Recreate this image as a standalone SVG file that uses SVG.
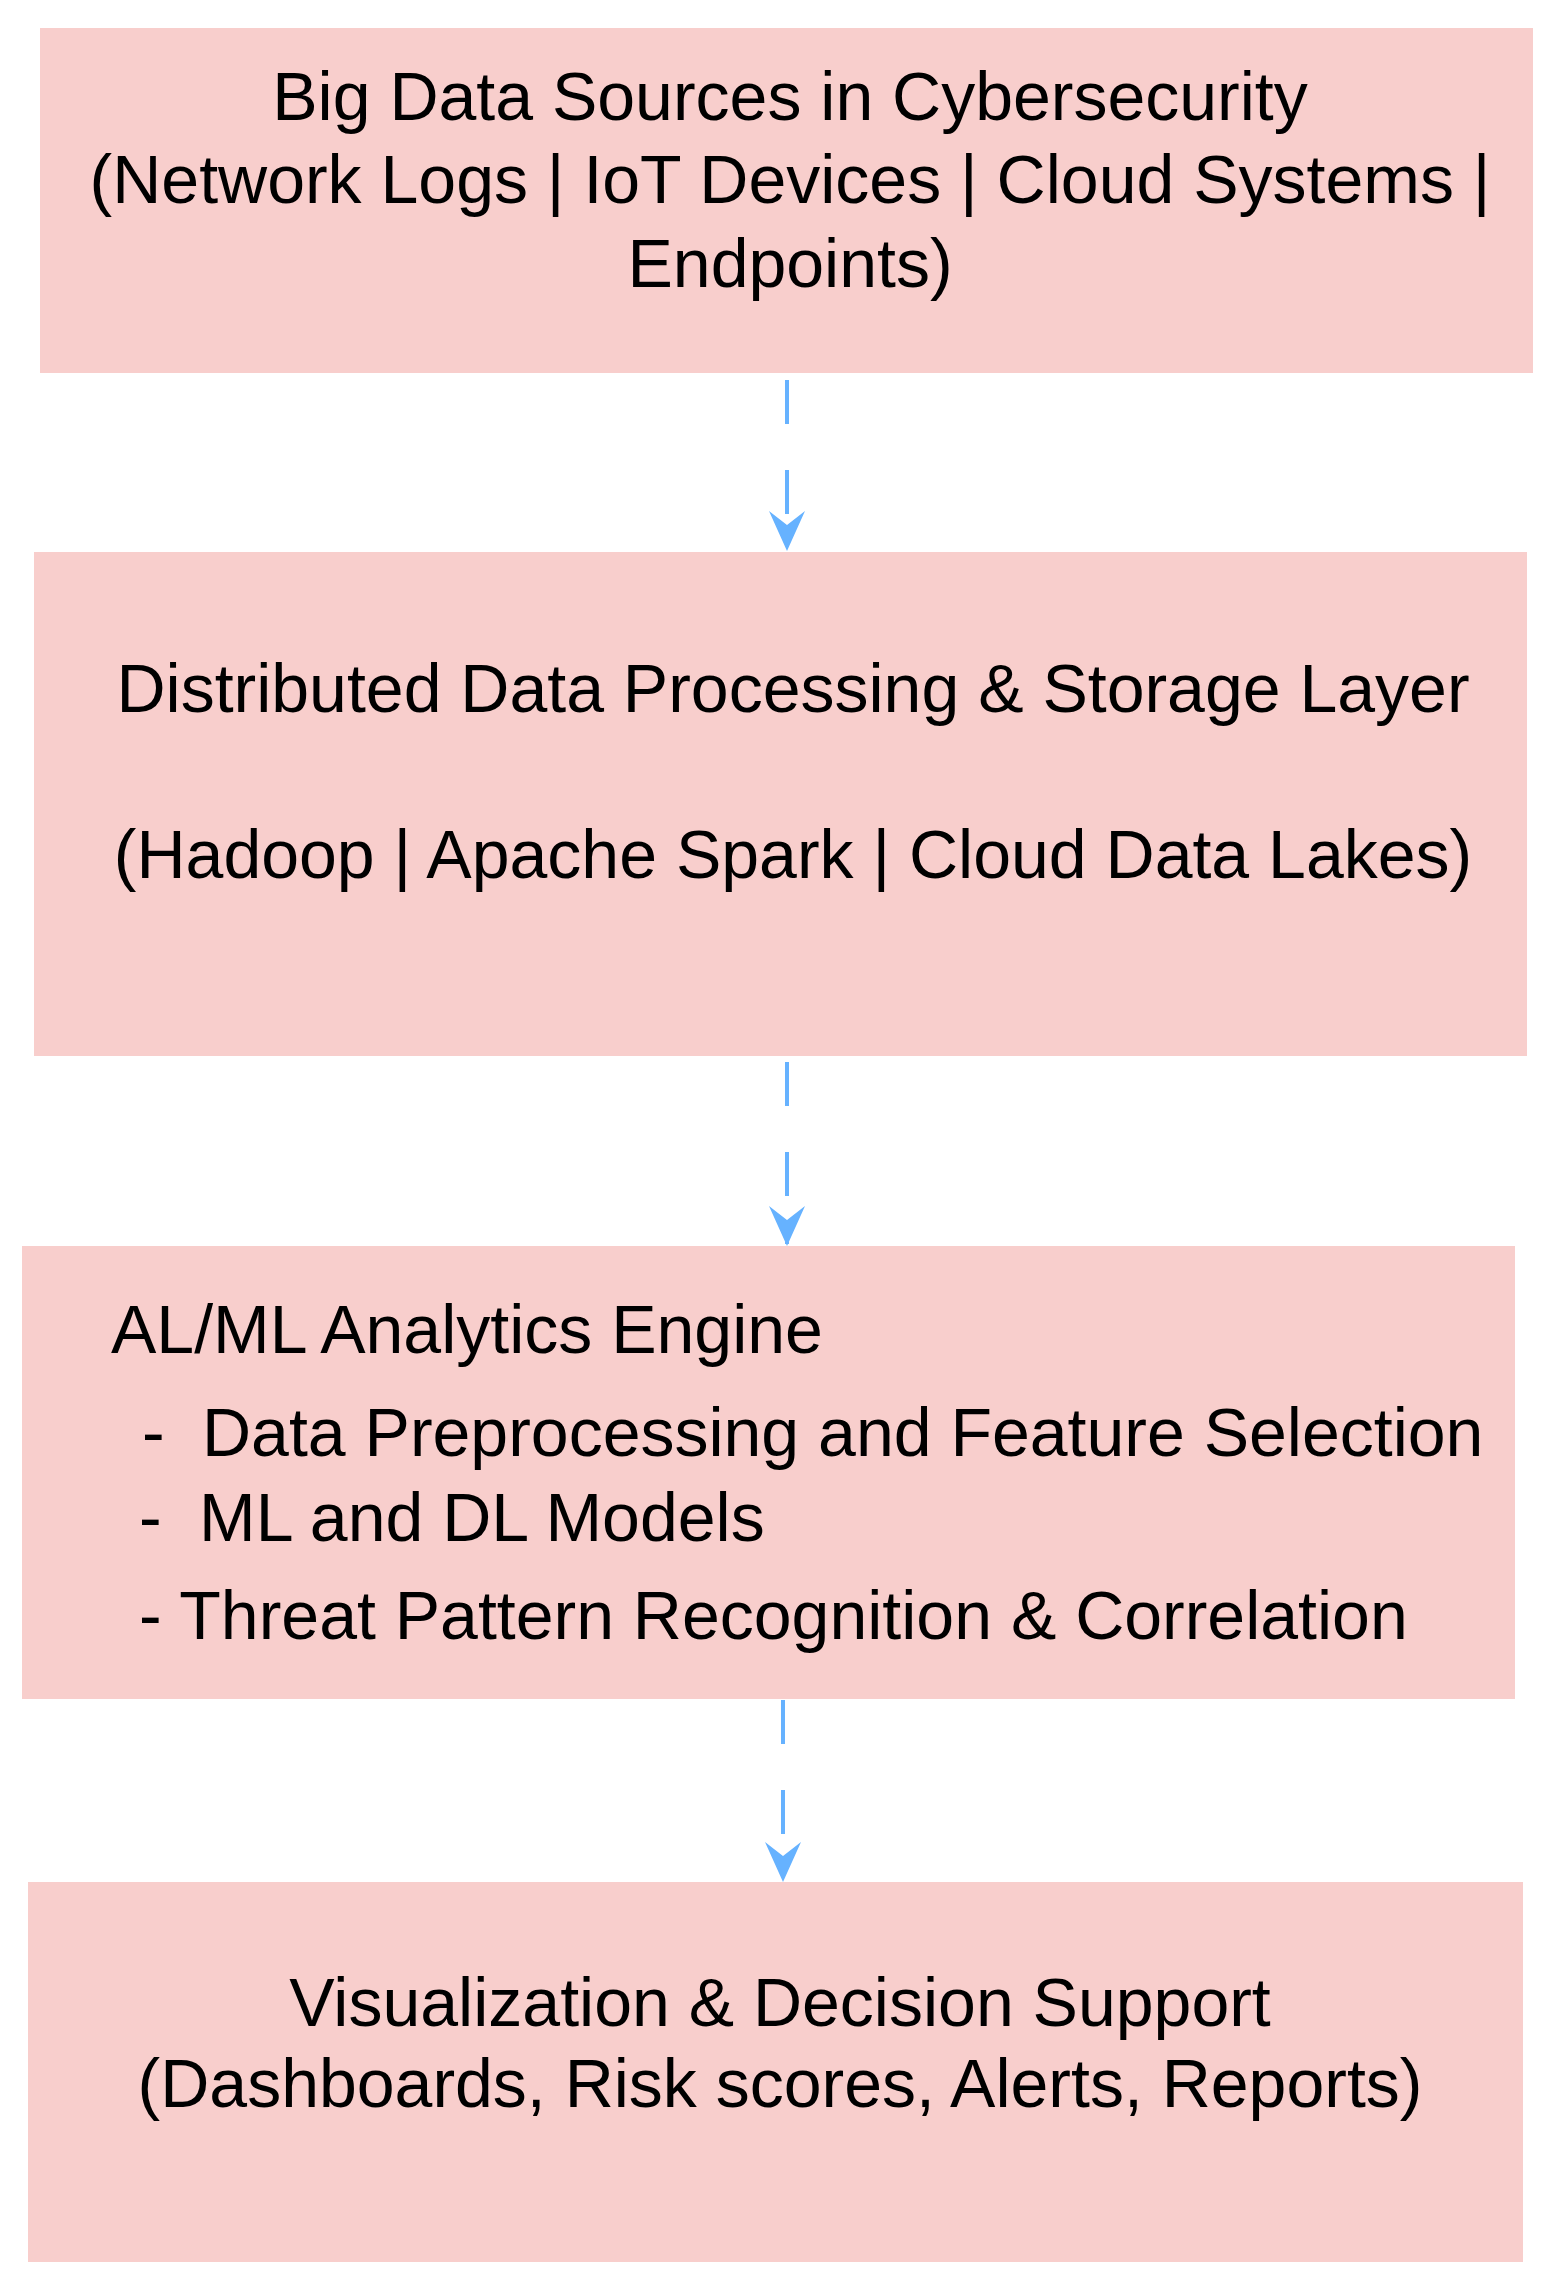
<svg xmlns="http://www.w3.org/2000/svg" width="1551" height="2288" viewBox="0 0 1551 2288">
<style>
.box{fill:#F8CECC;stroke:#F8CECC;stroke-width:2}
.t{font-family:"Liberation Sans",Arial,sans-serif;font-size:68px;fill:#000}
.c{text-anchor:middle}
.e{stroke:#66B2FF;stroke-width:4;fill:none;stroke-dasharray:44 46}
</style>
<defs><marker id="ah" viewBox="0 0 10 10" refX="9.5" refY="5" markerWidth="40" markerHeight="40" markerUnits="userSpaceOnUse" orient="auto"><path d="M0,0.5 L10,5 L0,9.5 L3.5,5 Z" fill="#66B2FF"/></marker></defs>
<rect width="1551" height="2288" fill="#fff"/>
<g id="n1"><rect class="box" x="41" y="29" width="1491" height="343"/>
<text class="t c" x="790" y="120">Big Data Sources in Cybersecurity</text>
<text class="t c" x="790" y="203">(Network Logs | IoT Devices | Cloud Systems |</text>
<text class="t c" x="790" y="287">Endpoints)</text></g>
<g id="n2"><rect class="box" x="35" y="553" width="1491" height="502"/>
<text class="t c" x="793" y="712">Distributed Data Processing &amp; Storage Layer</text>
<text class="t c" x="793" y="878">(Hadoop | Apache Spark | Cloud Data Lakes)</text></g>
<g id="n3"><rect class="box" x="23" y="1247" width="1491" height="451"/>
<text class="t" x="111" y="1353">AL/ML Analytics Engine</text>
<text class="t" x="142" y="1456">-</text><text class="t" x="202" y="1456">Data Preprocessing and Feature Selection</text>
<text class="t" x="139" y="1541">-</text><text class="t" x="199" y="1541">ML and DL Models</text>
<text class="t" x="139" y="1639">- Threat Pattern Recognition &amp; Correlation</text></g>
<g id="n4"><rect class="box" x="29" y="1883" width="1493" height="378"/>
<text class="t c" x="780" y="2026">Visualization &amp; Decision Support</text>
<text class="t c" x="780" y="2107">(Dashboards, Risk scores, Alerts, Reports)</text></g>
<g id="edges">
<path class="e" d="M787,380 V549" marker-end="url(#ah)"/>
<path class="e" d="M787,1062 V1244" marker-end="url(#ah)"/>
<path class="e" d="M783,1700 V1880" marker-end="url(#ah)"/>
</g>
</svg>
